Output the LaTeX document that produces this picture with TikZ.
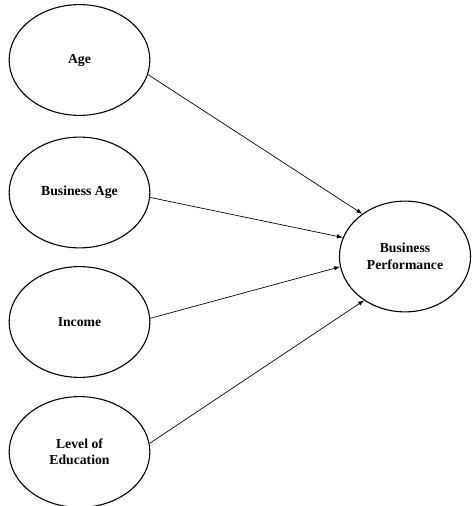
\documentclass[tikz,border=0pt]{standalone}
\usepackage{fontspec}
\setmainfont{Liberation Serif}
\usepackage{tikz}
\usetikzlibrary{arrows}
\usetikzlibrary{shapes.geometric}

\tikzset{
  factor/.style={draw,ellipse,line width=0.8pt,inner sep=0pt,minimum width=102.5pt,minimum height=80.7pt,font=\bfseries,align=center},
  outcome/.style={factor,minimum width=95.5pt},
  path/.style={-latex,line width=0.5pt}
}

\begin{document}
\begin{tikzpicture}[x=0.0256cm,y=-0.0256cm]
\useasboundingbox (0,0) rectangle (472,506);
\node[factor] (age) at (79.5,60) {Age};
\node[factor] (busage) at (79.5,192.5) {Business Age};
\node[factor] (income) at (79.5,322) {Income};
\node[factor] (edu) at (79.5,452) {Level of\\Education};
\node[outcome] (perf) at (405,256.5) {Business\\Performance};
\draw[path] (age.-12) -- (perf.135);
\draw[path] (busage.-4) -- (perf.163);
\draw[path] (income.3) -- (perf.189);
\draw[path] (edu.7) -- (perf.227);
\end{tikzpicture}
\end{document}
